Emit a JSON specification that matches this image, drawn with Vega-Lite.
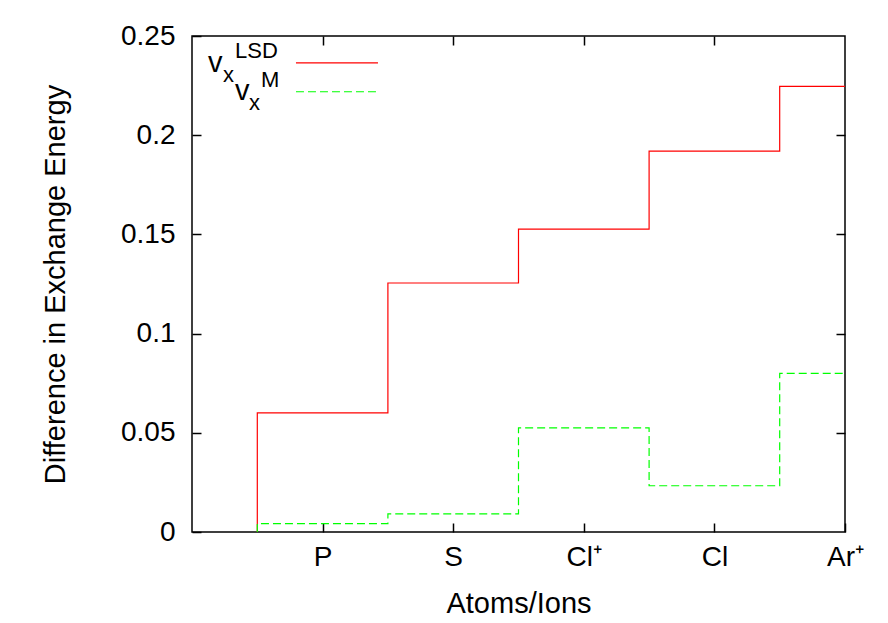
{
  "$schema": "https://vega.github.io/schema/vega-lite/v6.json",
  "width": 653,
  "height": 496,
  "autosize": {"type": "none"},
  "padding": {"left": 192, "top": 36, "right": 43, "bottom": 91},
  "background": "white",
  "config": {
    "font": "Liberation Sans",
    "view": {"stroke": "#000", "strokeWidth": 1.5},
    "axis": {
      "grid": false,
      "domain": false,
      "tickColor": "#000",
      "tickWidth": 1.5,
      "tickSize": -9,
      "labelFontSize": 28,
      "labelColor": "#000",
      "titleFontSize": 29,
      "titleFontWeight": "normal",
      "titleColor": "#000",
      "labelOverlap": false,
      "labelBound": false,
      "labelFlush": false
    }
  },
  "datasets": {
    "steps": [
      {"series": "LSD", "edge": 0.5, "val": 0},
      {"series": "LSD", "edge": 1.5, "val": 0.0600},
      {"series": "LSD", "edge": 2.5, "val": 0.1255},
      {"series": "LSD", "edge": 3.5, "val": 0.1527},
      {"series": "LSD", "edge": 4.5, "val": 0.1920},
      {"series": "LSD", "edge": 5.5, "val": 0.2246},
      {"series": "M", "edge": 0.5, "val": 0},
      {"series": "M", "edge": 1.5, "val": 0.0042},
      {"series": "M", "edge": 2.5, "val": 0.0091},
      {"series": "M", "edge": 3.5, "val": 0.0525},
      {"series": "M", "edge": 4.5, "val": 0.0233},
      {"series": "M", "edge": 5.5, "val": 0.0800}
    ],
    "one": [{}]
  },
  "resolve": {"axis": {"x": "independent", "y": "independent"}},
  "layer": [
    {
      "data": {"name": "steps"},
      "transform": [{"filter": "datum.series == 'LSD'"}],
      "mark": {"type": "line", "interpolate": "step-before", "stroke": "#ff0000", "strokeWidth": 1.2, "clip": true},
      "encoding": {
        "x": {
          "field": "edge", "type": "quantitative",
          "scale": {"domain": [0, 5], "nice": false, "zero": false},
          "axis": {
            "orient": "bottom",
            "values": [1, 2, 3, 4, 5],
            "labelExpr": "datum.value == 1 ? 'P' : datum.value == 2 ? 'S' : datum.value == 3 ? 'Cl⁺' : datum.value == 4 ? 'Cl' : 'Ar⁺'",
            "labelPadding": 20,
            "title": "Atoms/Ions",
            "titlePadding": 18
          }
        },
        "y": {
          "field": "val", "type": "quantitative",
          "scale": {"domain": [0, 0.25], "nice": false},
          "axis": {
            "orient": "left",
            "values": [0, 0.05, 0.1, 0.15, 0.2, 0.25],
            "format": "~g",
            "labelPadding": 26,
            "title": "Difference in Exchange Energy",
            "titlePadding": 50
          }
        }
      }
    },
    {
      "data": {"name": "steps"},
      "transform": [{"filter": "datum.series == 'M'"}],
      "mark": {"type": "line", "interpolate": "step-before", "stroke": "#00ff00", "strokeWidth": 1.2, "strokeDash": [8, 4], "clip": true},
      "encoding": {
        "x": {
          "field": "edge", "type": "quantitative",
          "scale": {"domain": [0, 5], "nice": false, "zero": false},
          "axis": {"orient": "top", "values": [1, 2, 3, 4], "labels": false, "title": null}
        },
        "y": {
          "field": "val", "type": "quantitative",
          "scale": {"domain": [0, 0.25], "nice": false},
          "axis": {"orient": "right", "values": [0.05, 0.1, 0.15, 0.2], "labels": false, "title": null}
        }
      }
    },
    {
      "data": {"name": "one"},
      "mark": {"type": "rule", "stroke": "#ff0000", "strokeWidth": 1.2},
      "encoding": {
        "x": {"datum": 0.796, "type": "quantitative", "axis": null},
        "x2": {"datum": 1.424},
        "y": {"datum": 0.2365, "type": "quantitative", "axis": null}
      }
    },
    {
      "data": {"name": "one"},
      "mark": {"type": "rule", "stroke": "#00ff00", "strokeWidth": 1.2, "strokeDash": [8, 4]},
      "encoding": {
        "x": {"datum": 0.796, "type": "quantitative", "axis": null},
        "x2": {"datum": 1.424},
        "y": {"datum": 0.2219, "type": "quantitative", "axis": null}
      }
    },
    {
      "data": {"name": "one"},
      "mark": {"type": "text", "text": "v", "fontSize": 29, "align": "left", "baseline": "alphabetic", "color": "#000"},
      "encoding": {
        "x": {"datum": 0.1225, "type": "quantitative", "axis": null},
        "y": {"datum": 0.2319, "type": "quantitative", "axis": null}
      }
    },
    {
      "data": {"name": "one"},
      "mark": {"type": "text", "text": "x", "fontSize": 22, "align": "left", "baseline": "alphabetic", "color": "#000"},
      "encoding": {
        "x": {"datum": 0.2374, "type": "quantitative", "axis": null},
        "y": {"datum": 0.2268, "type": "quantitative", "axis": null}
      }
    },
    {
      "data": {"name": "one"},
      "mark": {"type": "text", "text": "LSD", "fontSize": 22, "align": "left", "baseline": "alphabetic", "color": "#000"},
      "encoding": {
        "x": {"datum": 0.329, "type": "quantitative", "axis": null},
        "y": {"datum": 0.2389, "type": "quantitative", "axis": null}
      }
    },
    {
      "data": {"name": "one"},
      "mark": {"type": "text", "text": "v", "fontSize": 29, "align": "left", "baseline": "alphabetic", "color": "#000"},
      "encoding": {
        "x": {"datum": 0.329, "type": "quantitative", "axis": null},
        "y": {"datum": 0.2177, "type": "quantitative", "axis": null}
      }
    },
    {
      "data": {"name": "one"},
      "mark": {"type": "text", "text": "x", "fontSize": 22, "align": "left", "baseline": "alphabetic", "color": "#000"},
      "encoding": {
        "x": {"datum": 0.4364, "type": "quantitative", "axis": null},
        "y": {"datum": 0.2127, "type": "quantitative", "axis": null}
      }
    },
    {
      "data": {"name": "one"},
      "mark": {"type": "text", "text": "M", "fontSize": 22, "align": "left", "baseline": "alphabetic", "color": "#000"},
      "encoding": {
        "x": {"datum": 0.528, "type": "quantitative", "axis": null},
        "y": {"datum": 0.2243, "type": "quantitative", "axis": null}
      }
    }
  ]
}
